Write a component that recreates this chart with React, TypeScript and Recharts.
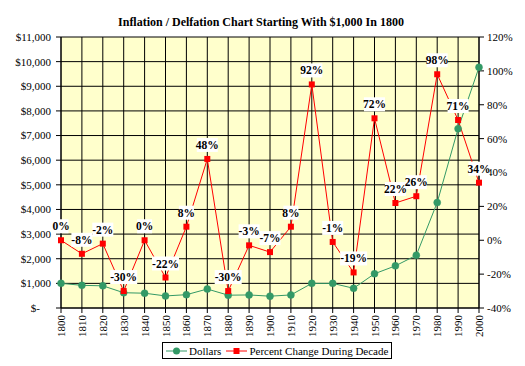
import {
  CartesianGrid,
  LabelList,
  Legend,
  Line,
  LineChart,
  XAxis,
  YAxis,
} from "recharts";

const years = [
  1800, 1810, 1820, 1830, 1840, 1850, 1860, 1870, 1880, 1890, 1900,
  1910, 1920, 1930, 1940, 1950, 1960, 1970, 1980, 1990, 2000,
];
const dollars = [
  1000, 920, 900, 620, 600, 490, 540, 770, 520, 530, 480,
  530, 1000, 1000, 800, 1390, 1710, 2140, 4280, 7280, 9770,
];
const pctChange = [
  0, -8, -2, -30, 0, -22, 8, 48, -30, -3, -7,
  8, 92, -1, -19, 72, 22, 26, 98, 71, 34,
];
const dollarTicks = [0, 1000, 2000, 3000, 4000, 5000, 6000, 7000, 8000, 9000, 10000, 11000];
const pctTicks = [-40, -20, 0, 20, 40, 60, 80, 100, 120];

const data = years.map((year, i) => ({
  year,
  dollars: dollars[i],
  pct: pctChange[i],
}));

const FONT = "Liberation Serif, serif";
const GREEN = "#339966";
const RED = "#ff0000";

function fmtDollar(v: number) {
  if (v === 0) return "$-\u00a0\u00a0\u00a0\u00a0";
  return "$" + v.toLocaleString("en-US");
}

function YearTick({ x, y, payload }: any) {
  return (
    <text
      x={x}
      y={y}
      transform={`rotate(-90 ${x} ${y})`}
      textAnchor="end"
      dy={4}
      fontSize={11}
      style={{ fontFamily: FONT }}
      fill="#000"
    >
      {payload.value}
    </text>
  );
}

function SquareDot({ cx, cy }: any) {
  if (cx == null || cy == null) return null;
  return <rect x={cx - 3} y={cy - 3} width={6} height={6} fill={RED} />;
}

function PctLabel({ x, y, value }: any) {
  const text = `${value}%`;
  const w = text.length * 6 + 3;
  return (
    <g>
      <rect x={x - w / 2} y={y - 21} width={w} height={14} fill="#fff" />
      <text
        x={x}
        y={y - 10}
        textAnchor="middle"
        fontSize={11.5}
        fontWeight="bold"
        style={{ fontFamily: FONT }}
        fill="#000"
      >
        {text}
      </text>
    </g>
  );
}

function LegendBox() {
  const item = { display: "flex", alignItems: "center" } as const;
  return (
    <div
      style={{
        display: "flex",
        alignItems: "center",
        border: "1px solid #000",
        background: "#fff",
        height: 15,
        padding: "0 3px 0 3px",
        fontFamily: FONT,
        fontSize: 11,
        color: "#000",
        whiteSpace: "nowrap",
      }}
    >
      <span style={item}>
        <svg width={21} height={10}>
          <line x1={0} y1={5} x2={21} y2={5} stroke={GREEN} />
          <circle cx={10.5} cy={5} r={3.5} fill={GREEN} />
        </svg>
        <span style={{ marginLeft: 2 }}>Dollars</span>
      </span>
      <span style={{ ...item, marginLeft: 5 }}>
        <svg width={21} height={10}>
          <line x1={0} y1={5} x2={21} y2={5} stroke={RED} />
          <rect x={7.5} y={2} width={6} height={6} fill={RED} />
        </svg>
        <span style={{ marginLeft: 2 }}>Percent Change During Decade</span>
      </span>
    </div>
  );
}

export default function App() {
  return (
    <div style={{ position: "absolute", left: 0, top: 0, width: 525, height: 366, background: "#fff", fontFamily: FONT }}>
      <LineChart
        width={525}
        height={366}
        data={data}
        margin={{ top: 37, right: 0, bottom: 24, left: 0 }}
        style={{ fontFamily: FONT }}
      >
        <text
          x={261}
          y={26}
          textAnchor="middle"
          fontSize={12}
          fontWeight="bold"
          style={{ fontFamily: FONT }}
          fill="#000"
        >
          Inflation / Delfation Chart Starting With $1,000 In 1800
        </text>
        <CartesianGrid yAxisId="left" stroke="#000" fill="#ffffcc" strokeOpacity={1} />
        <XAxis
          dataKey="year"
          type="number"
          domain={[1800, 2000]}
          ticks={years}
          interval={0}
          height={34}
          tickSize={5}
          tickMargin={2}
          stroke="#000"
          tick={<YearTick />}
        />
        <YAxis
          yAxisId="left"
          domain={[0, 11000]}
          ticks={dollarTicks}
          interval={0}
          width={61}
          tickSize={5}
          tickMargin={5}
          stroke="#000"
          tickFormatter={fmtDollar}
          tick={{ fontSize: 11, fill: "#000", style: { fontFamily: FONT } }}
        />
        <YAxis
          yAxisId="right"
          orientation="right"
          domain={[-40, 120]}
          ticks={pctTicks}
          interval={0}
          width={46}
          tickSize={5}
          tickMargin={3}
          stroke="#000"
          tickFormatter={(v: number) => `${v}%`}
          tick={{ fontSize: 11, fill: "#000", style: { fontFamily: FONT } }}
        />
        <Line
          yAxisId="left"
          dataKey="dollars"
          name="Dollars"
          stroke={GREEN}
          strokeWidth={1}
          dot={{ r: 3.5, fill: GREEN, stroke: GREEN, strokeWidth: 0.5 }}
          isAnimationActive={false}
        />
        <Line
          yAxisId="right"
          dataKey="pct"
          name="Percent Change During Decade"
          stroke={RED}
          strokeWidth={1}
          dot={<SquareDot />}
          isAnimationActive={false}
        >
          <LabelList dataKey="pct" content={<PctLabel />} />
        </Line>
        <Legend
          layout="horizontal"
          verticalAlign="middle"
          align="center"
          wrapperStyle={{ left: 162, top: 342, width: "auto" }}
          content={<LegendBox />}
        />
      </LineChart>
    </div>
  );
}
